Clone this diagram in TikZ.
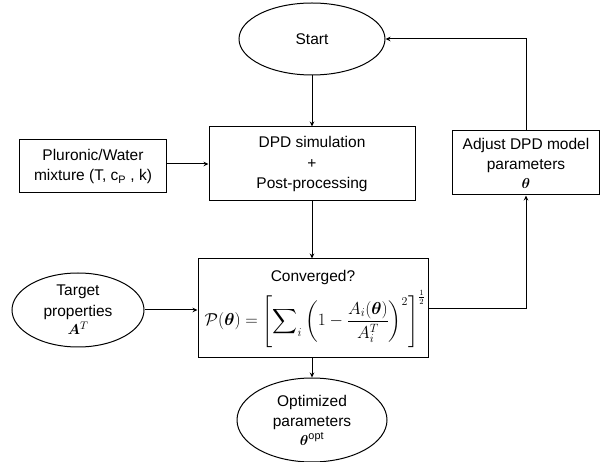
\documentclass[tikz,border=0pt]{standalone}
\usepackage{amsmath,bm}
\usepackage{fontspec}
\setmainfont{Liberation Sans}
\usetikzlibrary{shapes.geometric,arrows.meta}
\begin{document}
\begin{tikzpicture}[x=1pt,y=1pt,
  every node/.style={font=\fontsize{15.5}{20.5}\selectfont, align=center, inner sep=0pt, line width=1pt},
  boxnode/.style={draw, rectangle},
  ovalnode/.style={draw, ellipse},
  conn/.style={draw, line width=1pt, -{Stealth[length=5pt,width=4.5pt]}}
]
\useasboundingbox (0,0) rectangle (600,-462);
\node[ovalnode, minimum width=146pt, minimum height=72pt] (start) at (312,-39) {Start};
\node[boxnode, minimum width=206pt, minimum height=74pt] (dpd) at (312,-164) {DPD simulation\\+\\Post-processing};
\node[boxnode, minimum width=147pt, minimum height=53pt] (plu) at (93,-166.5) {Pluronic/Water\\mixture (T, c\textsubscript{P} , k)};
\node[boxnode, minimum width=147pt, minimum height=64pt] (adj) at (526,-163) {Adjust DPD model\\parameters\\[-2pt]$\bm{\theta}$};
\node[boxnode, minimum width=230pt, minimum height=99pt] (conv) at (313,-308.5) {};
\node (convt) at (313,-277) {Converged?};
\node[font=\fontsize{16.5}{20}\selectfont] (form) at (315,-319) {$\displaystyle \mathcal{P}(\bm{\theta})=\left[\sum\nolimits_i\left(1-\frac{A_i(\bm{\theta})}{A_i^T}\right)^{2}\right]^{\frac{1}{2}}$};
\node[ovalnode, minimum width=132pt, minimum height=74pt] (tgt) at (78,-310) {Target\\properties\\[-2pt]$\bm{A}^T$};
\node[ovalnode, minimum width=150pt, minimum height=84pt] (opt) at (312,-420) {Optimized\\parameters\\[-2pt]$\bm{\theta}^{\mathrm{opt}}$};
\draw[conn] (start.south) -- (dpd.north);
\draw[conn] (plu.east |- dpd.west) -- (dpd.west);
\draw[conn] (dpd.south) -- (dpd.south |- conv.north);
\draw[conn] (tgt.east) -- (tgt.east -| conv.west);
\draw[conn] (conv.south -| opt.north) -- (opt.north);
\draw[conn] (conv.east) -| (adj.south);
\draw[conn] (adj.north) |- (start.east);
\end{tikzpicture}
\end{document}
